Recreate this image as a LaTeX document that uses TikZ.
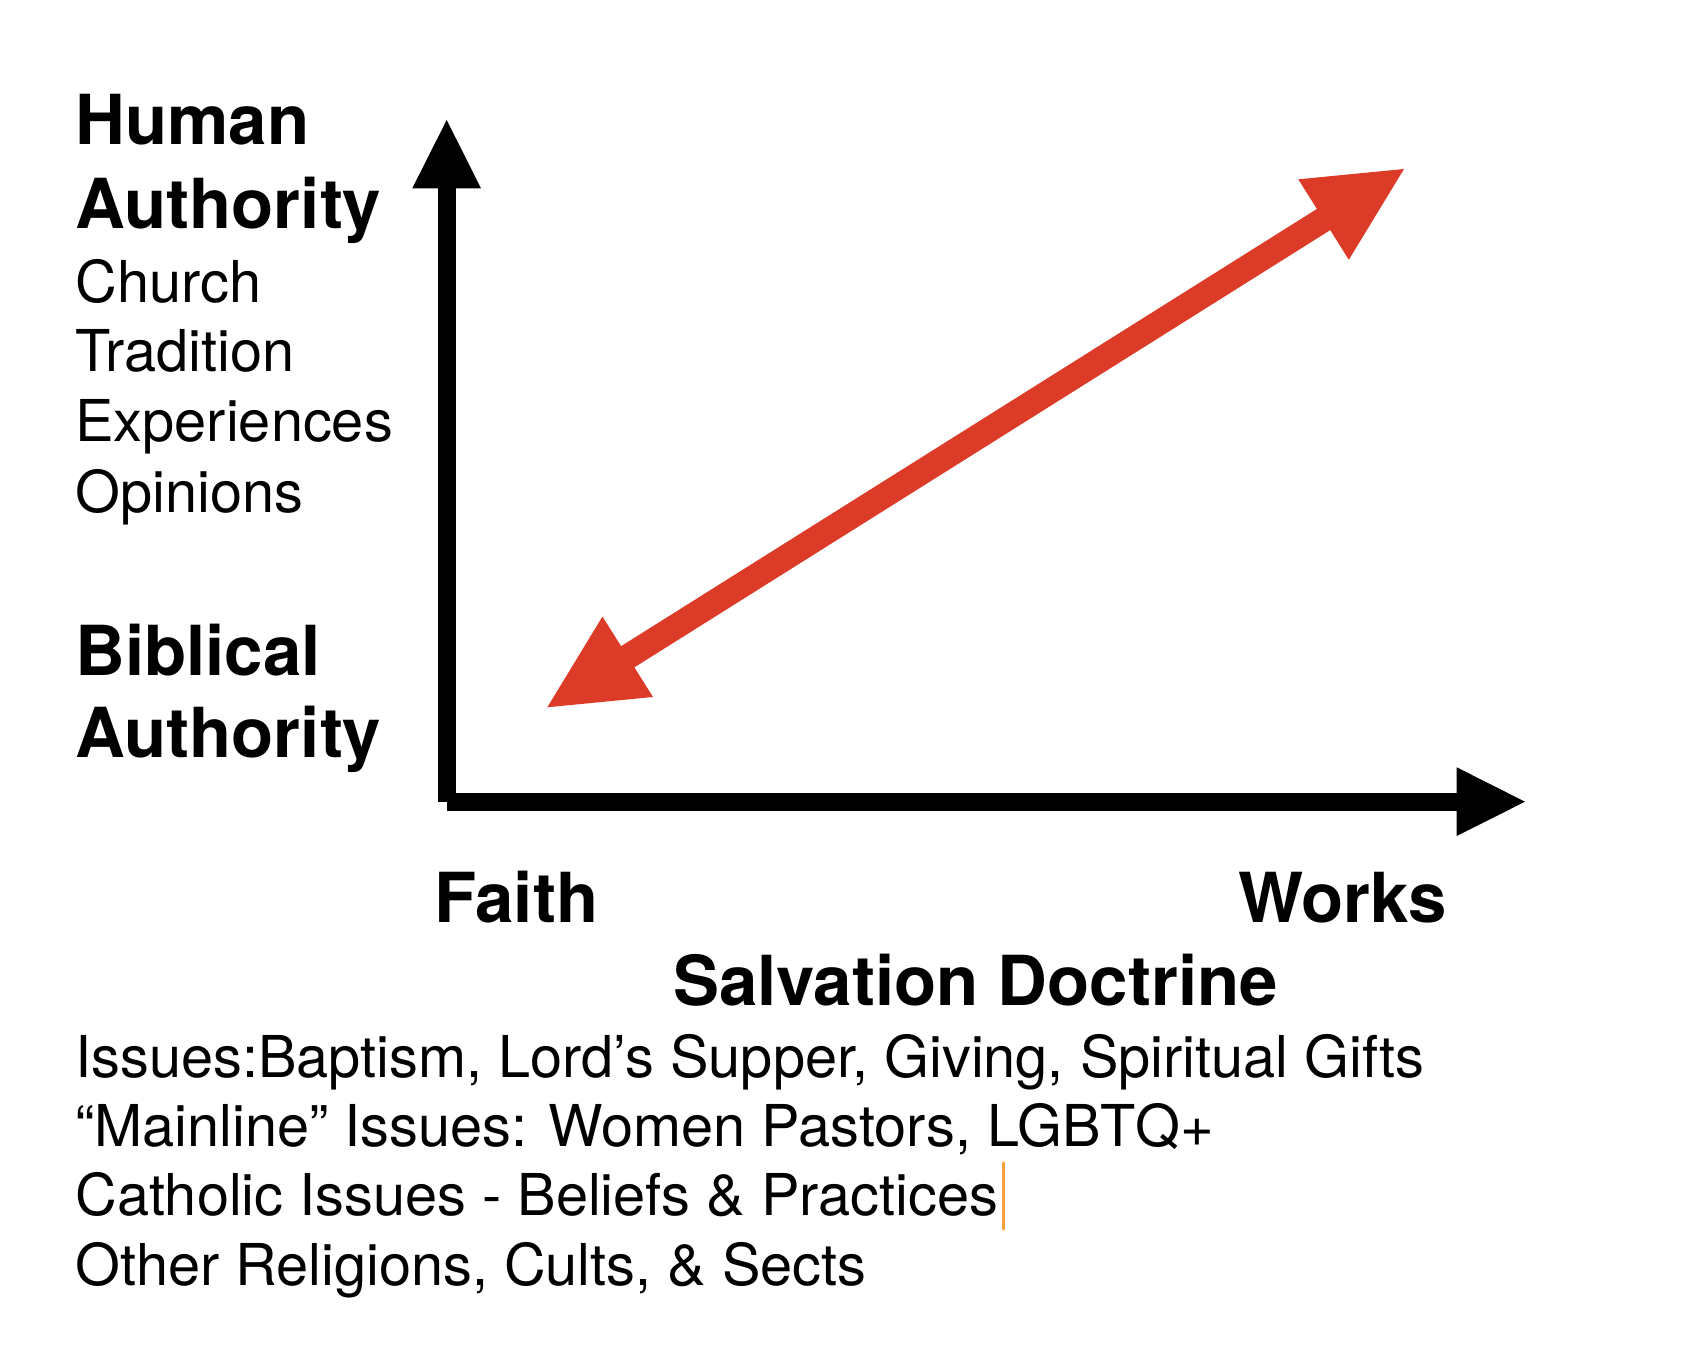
\documentclass[tikz,border=0pt]{standalone}
\usepackage{fontspec}
\setmainfont{TeX Gyre Heros}
\usetikzlibrary{calc}
\definecolor{arrowred}{RGB}{220,59,40}
\definecolor{cursororange}{RGB}{245,160,60}
\tikzset{
  boldtext/.style={anchor=base west,inner sep=0pt,font=\fontsize{34.5pt}{42pt}\selectfont\bfseries},
  regtext/.style={anchor=base west,inner sep=0pt,font=\fontsize{28.85pt}{35pt}\selectfont},
  axisline/.style={line width=8.85pt,line cap=butt,black},
  axishead/.style={fill=black},
  redshaft/.style={line width=12.5pt,line cap=butt,arrowred},
  redhead/.style={fill=arrowred},
  cursorline/.style={line width=1.6pt,line cap=round,cursororange}
}
\begin{document}
\begin{tikzpicture}[x=0.5pt,y=-0.5pt]
\useasboundingbox[fill=white] (0,0) rectangle (1692,1352);
% axes
\coordinate (O) at (447.2,802);
\coordinate (Yb) at (447.2,188.3);
\coordinate (Yl) at (412.3,188.3);
\coordinate (Yr) at (481,188.3);
\coordinate (Yt) at (446.7,120);
\coordinate (Xb) at (1456.7,802);
\coordinate (Xu) at (1456.7,767.3);
\coordinate (Xd) at (1456.7,836);
\coordinate (Xt) at (1525,801.7);
\draw[axisline] (O) -- ($(Yb)+(0,-2)$);
\fill[axishead] (Yl) -- (Yt) -- (Yr) -- cycle;
\draw[axisline] (O) -- ($(Xb)+(2,0)$);
\fill[axishead] (Xu) -- (Xt) -- (Xd) -- cycle;
% red double arrow
\coordinate (L) at (547.3,707.3);
\coordinate (U) at (1404,169);
\coordinate (Lb) at ($(L)!47.5pt!(U)$);
\coordinate (Ub) at ($(U)!47.5pt!(L)$);
\draw[redshaft] ($(L)!45pt!(U)$) -- ($(U)!45pt!(L)$);
\fill[redhead] (L) -- ($(Lb)!23.75pt!90:(U)$) -- ($(Lb)!23.75pt!-90:(U)$) -- cycle;
\fill[redhead] (U) -- ($(Ub)!23.75pt!90:(L)$) -- ($(Ub)!23.75pt!-90:(L)$) -- cycle;
% left labels
\node[boldtext] (human) at (75,145) {Human};
\node[boldtext] (hauth) at (75,229) {Authority};
\node[regtext] (church) at (75,303) {Church};
\node[regtext] (trad) at (75,372) {Tradition};
\node[regtext] (exp) at (75,442) {Experiences};
\node[regtext] (opin) at (75,513) {Opinions};
\node[boldtext] (bib) at (75,675.5) {Biblical};
\node[boldtext] (bauth) at (75,757) {Authority};
% axis labels
\node[boldtext] (faith) at (434,922) {Faith};
\node[boldtext,anchor=base east] (works) at (1447,922) {Works};
\node[boldtext,anchor=base] (salv) at (975.5,1005.5) {Salvation Doctrine};
% bottom lines
\node[regtext] (iss1) at (75,1077) {Issues:Baptism, Lord’s Supper, Giving, Spiritual Gifts};
\node[regtext] (iss2) at (75,1146) {“Mainline” Issues: Women Pastors, LGBTQ+};
\node[regtext] (iss3) at (75,1215) {Catholic Issues - Beliefs \& Practices};
\node[regtext] (iss4) at (75,1285) {Other Religions, Cults, \& Sects};
\coordinate (c1) at (1003.3,1163);
\coordinate (c2) at (1003.3,1229);
\draw[cursorline] (c1) -- (c2);
\end{tikzpicture}
\end{document}
